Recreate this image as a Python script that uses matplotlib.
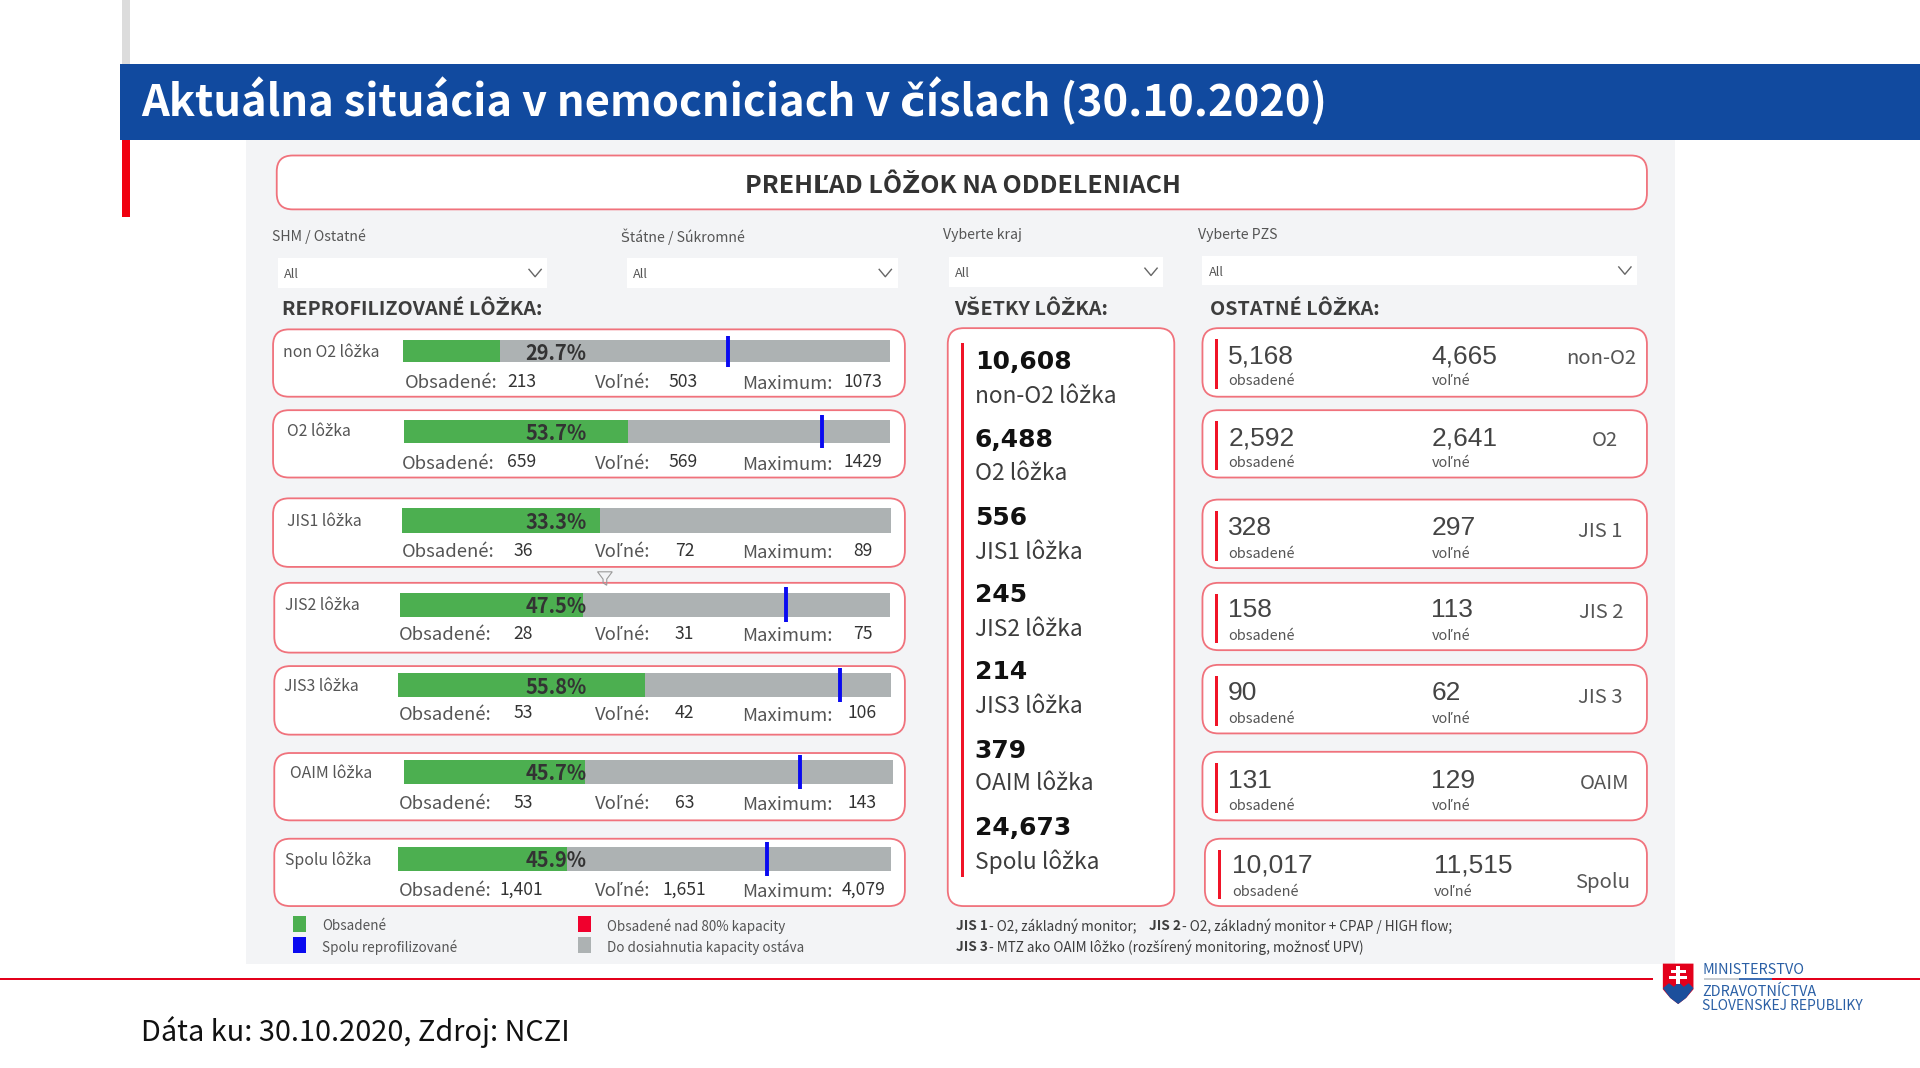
import matplotlib
matplotlib.use("Agg")
import matplotlib.pyplot as plt
from matplotlib.patches import FancyBboxPatch, Rectangle, Polygon

# ---------- data ----------
row_labels = ["non O2 lôžka", "O2 lôžka", "JIS1 lôžka", "JIS2 lôžka", "JIS3 lôžka", "OAIM lôžka", "Spolu lôžka"]
occupied = [213, 659, 36, 28, 53, 53, 1401]
free = [503, 569, 72, 31, 42, 63, 1651]
maximum = [1073, 1429, 89, 75, 106, 143, 4079]
percent = [29.7, 53.7, 33.3, 47.5, 55.8, 45.7, 45.9]

all_labels = ["non-O2 lôžka", "O2 lôžka", "JIS1 lôžka", "JIS2 lôžka", "JIS3 lôžka", "OAIM lôžka", "Spolu lôžka"]
all_values = [10608, 6488, 556, 245, 214, 379, 24673]

other_names = ["non-O2", "O2", "JIS 1", "JIS 2", "JIS 3", "OAIM", "Spolu"]
other_occupied = [5168, 2592, 328, 158, 90, 131, 10017]
other_free = [4665, 2641, 297, 113, 62, 129, 11515]

filters = ["SHM / Ostatné", "Štátne / Súkromné", "Vyberte kraj", "Vyberte PZS"]
legend_left = ["Obsadené", "Spolu reprofilizované"]
legend_right = ["Obsadené nad 80% kapacity", "Do dosiahnutia kapacity ostáva"]

# ---------- layout (px of a 1568 wide canvas) ----------
W, H = 1568, 872.25
GREEN, GREY, BLUE, RED, EDGE = "#4caf50", "#adb2b3", "#0a0af0", "#f01428", "#f0727c"
DARK, MID = "#3a3a3a", "#555555"
SANS = ["Noto Sans CJK SC", "DejaVu Sans"]

fig = plt.figure(figsize=(19.2, 10.68), dpi=100, facecolor="white")
ax = fig.add_axes([0, 0, 1, 1])
ax.set_xlim(0, W)
ax.set_ylim(H, 0)
ax.axis("off")


def T(x, y, s, size=12, color=DARK, weight="normal", ha="left", family=None, z=5):
    return ax.text(x, y, s, fontsize=size, color=color, fontweight=weight, ha=ha, va="center_baseline",
                   family=family or SANS, zorder=z)


def R(x0, y0, x1, y1, color, z=1, **kw):
    ax.add_patch(Rectangle((x0, y0), x1 - x0, y1 - y0, facecolor=color, edgecolor="none", zorder=z, **kw))


def card(x0, y0, x1, y1, r=13):
    ax.add_patch(FancyBboxPatch((x0, y0), x1 - x0, y1 - y0, boxstyle=f"round,pad=0,rounding_size={r}",
                                facecolor="white", edgecolor=EDGE, linewidth=1.3, zorder=2))


# slide furniture
R(100, 0, 106, 52, "#dcdcdc")
R(98, 52, W, 114, "#114a9f", z=3)
R(100, 114, 106, 177, "#f0000f")
T(115.5, 79, "Aktuálna situácia v nemocniciach v číslach (30.10.2020)", size=31.3, color="white",
  weight="bold", z=6)
R(201, 114, 1368, 787, "#f3f4f6")

# red base line + logo
R(0, 798.5, 1350, 800.5, "#e3001b", z=2)
R(1392, 798.5, 1420, 800, "#c8ccd0", z=2)
R(1420, 798.5, 1447, 800, "#3e6fb5", z=2)
R(1447, 798.5, W, 800.5, "#e3001b", z=2)
ax.add_patch(Polygon([(1358, 787), (1383, 787), (1383, 808), (1377, 815), (1370.5, 820), (1364, 815), (1358, 808)],
                     facecolor="#e3001b", edgecolor="none", zorder=4))
ax.add_patch(Polygon([(1358, 807), (1363, 803), (1367, 806), (1371, 802), (1375, 806), (1379, 803), (1383, 807),
                      (1377, 815), (1370.5, 820), (1364, 815)], facecolor="#1c4f9c", edgecolor="none", zorder=5))
R(1369, 789, 1372, 804, "white", z=6)
R(1364.5, 792.5, 1376.5, 794.5, "white", z=6)
R(1363, 797, 1378, 799.5, "white", z=6)
LOGO = "#2a5fa5"
T(1390, 791, "MINISTERSTVO", size=10.4, color=LOGO, z=6)
T(1390, 808.5, "ZDRAVOTNÍCTVA", size=10.4, color=LOGO, z=6)
T(1390, 820, "SLOVENSKEJ REPUBLIKY", size=10, color=LOGO, z=6)
T(115, 840, "Dáta ku: 30.10.2020, Zdroj: NCZI", size=20.8, color="#111111")

# header
card(226, 127, 1345, 171)
T(786, 149.5, "PREHĽAD LÔŽOK NA ODDELENIACH", size=18.0, color="#333333", weight="bold", ha="center")

# filters
filter_text_pos = [(222, 192), (507, 192), (770, 191), (978, 191)]
filter_boxes = [(227, 211, 447, 235), (512, 211, 733, 235), (775, 210, 950, 234), (982, 209, 1337, 233)]
for name, (tx, ty), (x0, y0, x1, y1) in zip(filters, filter_text_pos, filter_boxes):
    T(tx, ty, name, size=10.2, color=MID)
    R(x0, y0, x1, y1, "white", z=2)
    T(x0 + 5, (y0 + y1) / 2, "All", size=9.2, color=MID)
    cx, cy = x1 - 10, (y0 + y1) / 2
    ax.plot([cx - 5, cx, cx + 5], [cy - 3, cy + 3, cy - 3], color="#666666", lw=1, zorder=4)

T(230, 251, "REPROFILIZOVANÉ LÔŽKA:", size=14.2, color="#3d3d3d", weight="bold")
T(779, 251, "VŠETKY LÔŽKA:", size=14.2, color="#3d3d3d", weight="bold")
T(988, 251, "OSTATNÉ LÔŽKA:", size=14.2, color="#3d3d3d", weight="bold")

# left rows
row_cards = [(223, 269, 739, 324), (223, 335, 739, 390), (223, 407, 739, 463), (224, 476, 739, 533),
             (224, 544, 739, 600), (224, 615, 739, 670), (224, 685, 739, 740)]
row_bars = [(329, 278, 727, 296), (330, 343, 727, 362), (328, 415, 728, 435), (327, 484, 727, 504),
            (325, 550, 728, 569), (330, 621, 729, 640), (325, 692, 728, 711)]
label_pos = [(231, 286), (234, 351), (234, 424), (233, 493), (232, 559), (237, 630), (233, 701)]
stat_y = [311, 377, 449, 517, 582, 655, 726]
obs_x = [331, 328, 328, 326, 326, 326, 326]
occ_x = [414, 414, 419, 419, 419, 419, 408]
free_x = [546, 546, 551, 551, 551, 551, 541]
max_x = [689, 689, 697, 697, 692, 692, 687]

for i, name in enumerate(row_labels):
    card(*row_cards[i])
    T(label_pos[i][0], label_pos[i][1], name, size=11.4, color=MID)
    x0, y0, x1, y1 = row_bars[i]
    bax = fig.add_axes([x0 / W, 1 - y1 / H, (x1 - x0) / W, (y1 - y0) / H], zorder=3)
    bax.set_xlim(0, maximum[i])
    bax.set_ylim(-0.5, 0.5)
    bax.axis("off")
    bax.barh(0, maximum[i], height=1, color=GREY)
    bax.barh(0, occupied[i], height=1, color=GREEN)
    # reprofiled total: extends beyond the bar, so it is drawn on the same x scale
    total = occupied[i] + free[i]
    if total <= maximum[i]:
        bax.plot([total, total], [-0.72, 0.72], color=BLUE, lw=2.8, clip_on=False, solid_capstyle="butt")
    bax.text(maximum[i] * (454 - x0) / (x1 - x0), 0, f"{percent[i]:.1f}%", fontsize=14.4,
             fontweight="bold", color="#333333", ha="center", va="center_baseline", family=SANS)
    sy = stat_y[i]
    mv = maximum[i]
    T(obs_x[i], sy, "Obsadené:", size=13.3, color=MID)
    T(occ_x[i], sy - 1, f"{occupied[i]:,}", size=12.6, color="#333333")
    T(486, sy, "Voľné:", size=13.3, color=MID)
    T(free_x[i], sy - 1, f"{free[i]:,}", size=12.6, color="#333333")
    T(606, sy + 1, "Maximum:", size=13.3, color=MID)
    T(max_x[i], sy - 1, f"{mv:,}" if mv > 2000 else str(mv), size=12.6, color="#333333")

ax.add_patch(Polygon([(488, 467), (500, 467), (495.5, 473), (495.5, 478), (492.5, 476), (492.5, 473)],
                     facecolor="none", edgecolor="#9a9a9a", linewidth=0.8, zorder=4))

# middle card
card(774, 268, 959, 740)
R(785, 280, 787.5, 716, RED, z=3)
mid_val_y = [294, 357, 421, 484, 547, 611, 674]
mid_lab_y = [322, 385, 449, 512, 575, 638, 702]
for val, lab, vy, ly in zip(all_values, all_labels, mid_val_y, mid_lab_y):
    T(796, vy, f"{val:,}", size=18, color="#111111", weight="bold", family="DejaVu Sans")
    T(796, ly, lab, size=16.4, color="#3d3d3d")

# right cards
right_cards = [(982, 268, 1345, 324), (982, 335, 1345, 390), (982, 408, 1345, 464), (982, 476, 1345, 531),
               (982, 543, 1345, 599), (982, 614, 1345, 670), (984, 685, 1345, 740)]
right_val_y = [289, 356, 429, 496, 564, 636, 705]
right_sub_y = [310, 377, 451, 518, 586, 657, 727]
right_name_y = [291, 358, 432, 498, 568, 638, 719]
right_name_x = [1336, 1321, 1325, 1326, 1325, 1331, 1331]
for i, name in enumerate(other_names):
    x0, y0, x1, y1 = right_cards[i]
    card(x0, y0, x1, y1)
    R(x0 + 10.5, y0 + 9, x0 + 13, y1 - 6, RED, z=3)
    xa, xb = (1006, 1171) if i == 6 else (1003, 1169)
    T(xa, right_val_y[i], f"{other_occupied[i]:,}", size=19, color="#444444", family="Liberation Sans")
    T(xb, right_val_y[i], f"{other_free[i]:,}", size=19, color="#444444", family="Liberation Sans")
    T(xa, right_sub_y[i], "obsadené", size=10.4, color=MID)
    T(xb, right_sub_y[i], "voľné", size=10.4, color=MID)
    T(right_name_x[i], right_name_y[i], name, size=14.6, color=MID, ha="right")

# legend
for x, names, cols in [(239, legend_left, [GREEN, BLUE]), (472, legend_right, ["#f0002d", GREY])]:
    for y, name, c in zip([755, 772], names, cols):
        R(x, y - 6.5, x + 11, y + 6.5, c, z=3)
        T(x + 24, y, name, size=9.7, color=MID)

# notes
NOTE = "#3d3d3d"
for x, y, s, w in [(781, 755, "JIS 1", "bold"), (808, 755, "- O2, základný monitor;", "normal"),
                   (938, 755, "JIS 2", "bold"), (965, 755, "- O2, základný monitor + CPAP / HIGH flow;", "normal"),
                   (781, 772, "JIS 3", "bold"),
                   (808, 772, "- MTZ ako OAIM lôžko (rozšírený monitoring, možnosť UPV)", "normal")]:
    T(x, y, s, size=9.8, color=NOTE, weight=w)

fig.savefig("out.png", dpi=100, facecolor="white")
